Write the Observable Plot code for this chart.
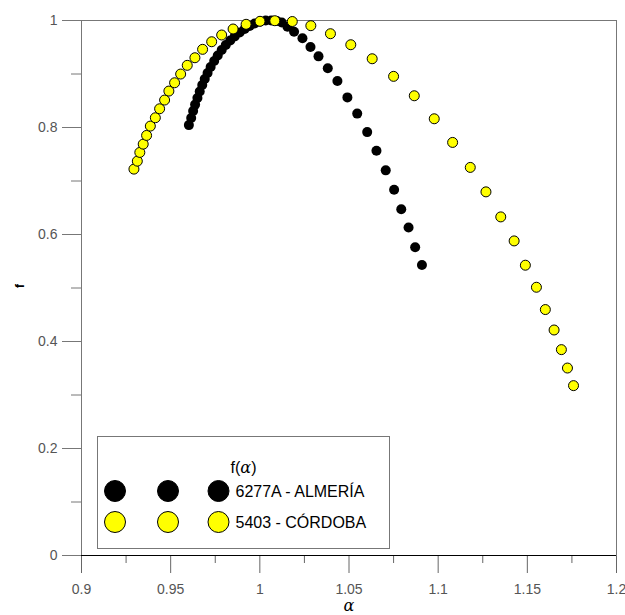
<!DOCTYPE html>
<html><head><meta charset="utf-8">
<script src="https://cdn.jsdelivr.net/npm/d3@7"></script>
<script src="https://cdn.jsdelivr.net/npm/@observablehq/plot@0.6"></script>
<style>
body{margin:0;background:#fff;}
#chart{position:relative;width:625px;height:615px;}
</style>
</head><body><div id="chart"></div>
<script>
// Series 1: 6277A - ALMERÍA (black)
const almeriaAlpha = [0.9602,0.9615,0.9626,0.9637,0.9650,0.9663,0.9677,0.9691,0.9707,0.9724,0.9744,0.9764,0.9786,0.9809,0.9834,0.9859,0.9887,0.9915,0.9943,0.9971,1.0002,1.0033,1.0064,1.0095,1.0123,1.0155,1.0192,1.0239,1.0284,1.0329,1.0381,1.0435,1.0491,1.0546,1.0602,1.0654,1.0706,1.0753,1.0793,1.0834,1.0871,1.0909];
const almeriaF     = [0.8045,0.8176,0.8307,0.8428,0.8550,0.8672,0.8793,0.8906,0.9018,0.9130,0.9242,0.9345,0.9448,0.9542,0.9626,0.9701,0.9776,0.9841,0.9897,0.9944,0.9981,1.0000,0.9999,0.9991,0.9963,0.9884,0.9790,0.9667,0.9504,0.9330,0.9106,0.8868,0.8563,0.8260,0.7914,0.7564,0.7199,0.6835,0.6473,0.6131,0.5762,0.5431];
// Series 2: 5403 - CÓRDOBA (yellow)
const cordobaAlpha = [0.9294,0.9313,0.9327,0.9346,0.9365,0.9386,0.9414,0.9438,0.9466,0.9490,0.9522,0.9556,0.9593,0.9636,0.9679,0.9730,0.9786,0.9850,0.9923,1.0001,1.0084,1.0182,1.0286,1.0396,1.0510,1.0630,1.0750,1.0866,1.0978,1.1081,1.1180,1.1268,1.1351,1.1426,1.1489,1.1551,1.1601,1.1650,1.1691,1.1725,1.1759];
const cordobaF     = [0.7222,0.7371,0.7534,0.7689,0.7852,0.8026,0.8182,0.8350,0.8513,0.8681,0.8836,0.8999,0.9162,0.9304,0.9461,0.9603,0.9729,0.9841,0.9929,0.9985,0.9996,0.9981,0.9903,0.9753,0.9547,0.9285,0.8956,0.8593,0.8163,0.7721,0.7254,0.6797,0.6329,0.5880,0.5426,0.5014,0.4597,0.4215,0.3848,0.3504,0.3175];

const seriesNames  = ["6277A - ALMERÍA", "5403 - CÓRDOBA"];
const seriesColors = ["#000000", "#ffff00"];

const xMajorTicks = [0.9, 0.95, 1, 1.05, 1.1, 1.15, 1.2];
const xMinorTicks = [0.925, 0.975, 1.025, 1.075, 1.125, 1.175];
const yMajorTicks = [0, 0.2, 0.4, 0.6, 0.8, 1];
const yMinorTicks = [0.1, 0.3, 0.5, 0.7, 0.9];
const xLabel = "α";
const yLabel = "f";

const almeria = almeriaAlpha.map((a, i) => ({alpha: a, f: almeriaF[i]}));
const cordoba = cordobaAlpha.map((a, i) => ({alpha: a, f: cordobaF[i]}));
const fmt = d => String(+d.toFixed(3));
const font = "'Liberation Sans', Arial, sans-serif";

const plot = Plot.plot({
  width: 625, height: 615,
  marginLeft: 81, marginRight: 9, marginTop: 20, marginBottom: 60,
  x: {domain: [0.9, 1.2]},
  y: {domain: [0, 1]},
  style: {fontFamily: font, fontSize: "14px", color: "#555", background: "#fff"},
  marks: [
    Plot.axisX(xMajorTicks, {tickSize: 18, tickPadding: 11, tickFormat: fmt, label: null, stroke: "#666"}),
    Plot.axisX(xMinorTicks, {tickSize: 8, tickFormat: () => "", label: null, stroke: "#666"}),
    Plot.axisY(yMajorTicks, {tickSize: 19, tickPadding: 5, tickFormat: fmt, label: null, stroke: "#777"}),
    Plot.axisY(yMinorTicks, {tickSize: 10, tickFormat: () => "", label: null, stroke: "#777"}),
    Plot.frame({stroke: "#777"}),
    Plot.ruleY([0], {stroke: "#000"}),
    Plot.text([xLabel], {frameAnchor: "bottom", dy: 55, fontSize: 16, fontStyle: "italic", fill: "#000", fontFamily: "'DejaVu Serif', serif"}),
    Plot.text([yLabel], {frameAnchor: "left", dx: -61, rotate: -90, fontSize: 12, fontWeight: "bold", fill: "#000"}),
    Plot.dot(almeria, {x: "alpha", y: "f", r: 5, fill: seriesColors[0]}),
    Plot.dot(cordoba, {x: "alpha", y: "f", r: 5, fill: seriesColors[1], stroke: "#000", strokeWidth: 1})
  ]
});
document.getElementById("chart").appendChild(plot);

// Legend box inside the plot area
const svg = d3.select(plot);
const lg = svg.append("g").attr("transform", "translate(97.5,436.5)");
lg.append("rect").attr("width", 292).attr("height", 112).attr("fill", "#fff").attr("stroke", "#777");
const title = lg.append("text").attr("x", 146).attr("y", 36).attr("text-anchor", "middle")
  .attr("font-family", font).attr("font-size", 16).attr("fill", "#000");
title.append("tspan").text("f(");
title.append("tspan").attr("font-style", "italic").attr("font-family", "'DejaVu Serif', serif").text("α");
title.append("tspan").text(")");
seriesNames.forEach((name, i) => {
  const cy = 54.5 + i * 31;
  [17.5, 70.5, 121].forEach(cx => {
    lg.append("circle").attr("cx", cx).attr("cy", cy).attr("r", 10.5)
      .attr("fill", seriesColors[i]).attr("stroke", "#000").attr("stroke-width", 1);
  });
  lg.append("text").attr("x", 138).attr("y", cy + 6).attr("text-anchor", "start")
    .attr("font-family", font).attr("font-size", 16).attr("fill", "#000").text(name);
});
</script>
</body></html>
